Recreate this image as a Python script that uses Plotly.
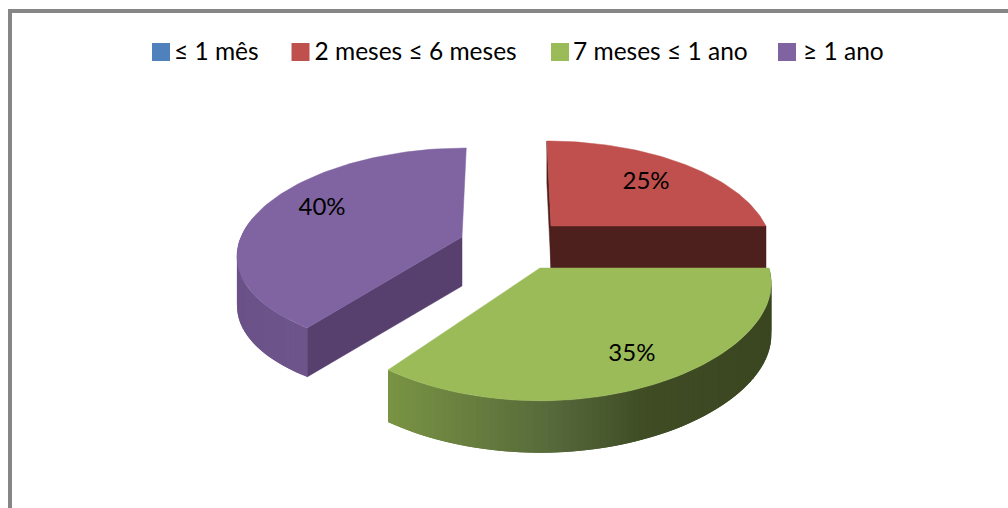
import math
import plotly.graph_objects as go

# ---- data ----
categories = ["≤ 1 mês", "2 meses ≤ 6 meses", "7 meses ≤ 1 ano", "≥ 1 ano"]
values = [0, 25, 35, 40]
percent_labels = ["", "25%", "35%", "40%"]

# ---- style ----
top_colors = ["#4F81BD", "#C0504D", "#9BBB59", "#8064A2"]
face_colors = [None, "#4D1F1D", "#3E4A22", "#573F6E"]
rim_stops = [
    None,
    None,
    [(0, "#7A9444"), (0.45, "#55683A"), (0.68, "#3F4C24"), (1, "#3A4620")],
    [(0, "#6A5288"), (0.7, "#715A90"), (1, "#6A5288")],
]
# geometry of each exploded, perspective-projected wedge
GEOM = [
    None,
    dict(cx=551, cy=226, rx=215, ry=103.4, k=0.2166, kx=0.2166, skew=-5, depth=42,
         lr=0.66, ldx=6, ldy=1),
    dict(cx=540, cy=268, rx=229, ry=104, k=0.2166, kx=0.1414, skew=0, depth=52,
         lr=0.74, ldx=7, ldy=7),
    dict(cx=462, cy=237, rx=221, ry=100.6, k=0.13, kx=0.167, skew=5, depth=49,
         lr=0.70, ldx=1, ldy=-7),
]
LEGEND_KEY_X = [161, 300.5, 560, 787]
LEGEND_TEXT_X = [174, 314.5, 573, 803]
LEGEND_KEY_Y = 52
LEGEND_TEXT_Y = 53.5


def project(g, angle_deg, r=1.0):
    a = math.radians(angle_deg)
    u, v = r * math.sin(a), r * math.cos(a)
    wx = 1 / (1 + g["kx"] * v)
    wy = 1 / (1 + g["k"] * v)
    return g["cx"] + (g["rx"] * u + g["skew"] * v) * wx, g["cy"] - g["ry"] * v * wy


def lerp_color(stops, t):
    for (t0, c0), (t1, c1) in zip(stops, stops[1:]):
        if t <= t1:
            f = (t - t0) / (t1 - t0)
            rgb = [
                round(int(c0[i:i + 2], 16) * (1 - f) + int(c1[i:i + 2], 16) * f)
                for i in (1, 3, 5)
            ]
            return "rgb(%d,%d,%d)" % tuple(rgb)
    return stops[-1][1]


def poly(xs, ys, color, width=0):
    return go.Scatter(
        x=xs + xs[:1], y=ys + ys[:1], mode="lines", fill="toself", fillcolor=color,
        line=dict(color=color, width=width), hoverinfo="skip", showlegend=False,
    )


total = sum(values)
spans, start = [], 0.0
for val in values:
    spans.append((start, start + 360.0 * val / total))
    start += 360.0 * val / total

fig = go.Figure()
label_x, label_y, label_text = [], [], []

for i in (3, 1, 2):  # back-to-front painter's order
    g = GEOM[i]
    a0, a1 = spans[i]
    d = g["depth"]
    n = 80
    angles = [a0 + (a1 - a0) * j / n for j in range(n + 1)]
    arc = [project(g, a) for a in angles]
    centre = (g["cx"], g["cy"])

    # cut faces
    edges = {1: (a0, a1), 2: (), 3: (a0,)}[i]
    for edge in edges:
        px, py = project(g, edge)
        xs = [centre[0], px, px, centre[0]]
        ys = [centre[1], py, py + d, centre[1] + d]
        fig.add_trace(poly(xs, ys, face_colors[i], 0.5))

    # outer rim, thin shaded strips overlapping the next one to avoid seams
    if rim_stops[i]:
        xmin, xmax = min(p[0] for p in arc), max(p[0] for p in arc)
        for j in range(n):
            if math.cos(math.radians(angles[j])) > 0.15:
                continue
            x0, y0 = arc[j]
            x1, y1 = arc[min(j + 2, n)]
            t = (x0 - xmin) / (xmax - xmin)
            fig.add_trace(poly([x0, x1, x1, x0], [y0, y1, y1 + d, y0 + d],
                               lerp_color(rim_stops[i], t)))

    # top surface
    fig.add_trace(poly([centre[0]] + [p[0] for p in arc],
                       [centre[1]] + [p[1] for p in arc], top_colors[i], 0.5))

    lx, ly = project(g, (a0 + a1) / 2, g["lr"])
    label_x.append(lx + g["ldx"])
    label_y.append(ly + g["ldy"])
    label_text.append(percent_labels[i])

fig.add_trace(go.Scatter(
    x=label_x, y=label_y, text=label_text, mode="text", textposition="middle center",
    textfont=dict(family="Lato, Carlito, sans-serif", size=24, color="#000000"),
    hoverinfo="skip", showlegend=False,
))

# legend row: key squares plus their real text
for name, color, kx, tx in zip(categories, top_colors, LEGEND_KEY_X, LEGEND_TEXT_X):
    fig.add_trace(go.Scatter(
        x=[kx], y=[LEGEND_KEY_Y], mode="markers", name=name,
        marker=dict(symbol="square", size=18, color=color),
        hoverinfo="skip", showlegend=False,
    ))
    fig.add_trace(go.Scatter(
        x=[tx], y=[LEGEND_TEXT_Y], mode="text", text=[name], textposition="middle right",
        textfont=dict(family="Lato, Carlito, sans-serif", size=24.5, color="#000000"),
        hoverinfo="skip", showlegend=False,
    ))

fig.update_layout(
    width=1008, height=508, autosize=False,
    margin=dict(l=0, r=0, t=0, b=0),
    paper_bgcolor="#FFFFFF", plot_bgcolor="#FFFFFF",
    xaxis=dict(range=[0, 1008], visible=False, fixedrange=True),
    yaxis=dict(range=[508, 0], visible=False, fixedrange=True),
    showlegend=False,
    shapes=[dict(type="rect", xref="x", yref="y", x0=10, y0=11, x1=1100, y1=620,
                 line=dict(color="#868686", width=4), fillcolor="rgba(0,0,0,0)", layer="above")],
)

fig.write_html("out.html", config={"displayModeBar": False},
               post_script="document.body.style.margin='0';document.body.style.overflow='hidden';")
